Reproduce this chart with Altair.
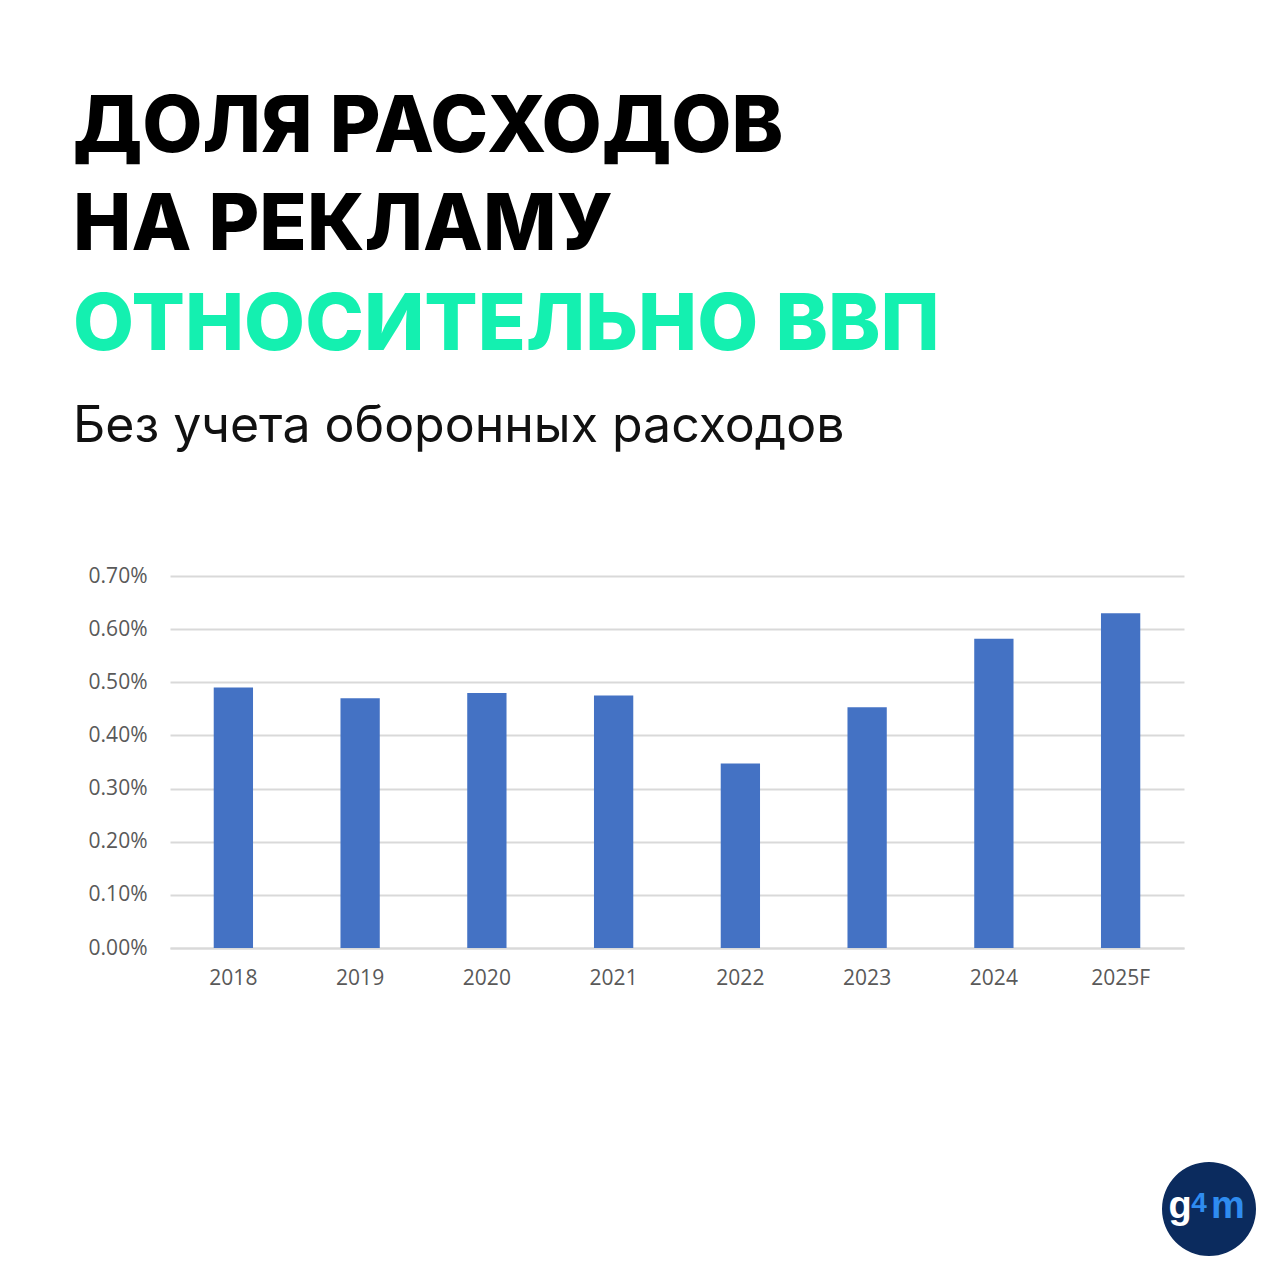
import altair as alt
import pandas as pd

years = ["2018", "2019", "2020", "2021", "2022", "2023", "2024", "2025F"]
shares = [0.0049, 0.0047, 0.0048, 0.00475, 0.00347, 0.00453, 0.00582, 0.0063]
y_ticks = [0.0, 0.001, 0.002, 0.003, 0.004, 0.005, 0.006, 0.007]
title_black = ["ДОЛЯ РАСХОДОВ", "НА РЕКЛАМУ"]
title_green = ["ОТНОСИТЕЛЬНО ВВП"]
subtitle = ["Без учета оборонных расходов"]

df = pd.DataFrame({"year": years, "share": shares})

W, H = 1014, 372

bars = alt.Chart(df).mark_bar(color="#4472C4").encode(
    x=alt.X("year:N", sort=years, title=None,
            scale=alt.Scale(paddingInner=0.69, paddingOuter=0.345),
            axis=alt.Axis(labelAngle=0, labelFont="Open Sans", labelFontSize=21,
                          labelColor="#595959", labelPadding=19, ticks=False,
                          domain=True, domainColor="#D9D9D9", domainWidth=2)),
    y=alt.Y("share:Q", title=None,
            scale=alt.Scale(domain=[0, 0.007], nice=False),
            axis=alt.Axis(values=y_ticks, format=".2%", labelFont="Open Sans",
                          labelFontSize=21, labelColor="#595959", labelPadding=23,
                          ticks=False, domain=False, grid=True, gridColor="#D9D9D9",
                          gridWidth=2)),
)

def text_layer(lines, y0, step, size, weight, color):
    layers = []
    for i, line in enumerate(lines):
        layers.append(
            alt.Chart(pd.DataFrame({"t": [line]})).mark_text(
                align="left", baseline="alphabetic", font="Inter", fontSize=size,
                fontWeight=weight, color=color
            ).encode(x=alt.value(-97), y=alt.value(y0 + i * step), text="t:N")
        )
    return layers

layers = [bars]
layers += text_layer(title_black, -424, 98, 78, 800, "#000000")
layers += text_layer(title_green, -226, 0, 79, 800, "#14F0B0")
layers += text_layer(subtitle, -134, 0, 50, 400, "#111111")

logo_df = pd.DataFrame({"g": ["g"], "n": ["4"], "m": ["m"]})
logo_circle = alt.Chart(logo_df).mark_point(
    shape="circle", filled=True, size=8836, color="#0B2B5E", opacity=1
).encode(x=alt.value(1039), y=alt.value(633))
logo_g = alt.Chart(logo_df).mark_text(
    font="Liberation Sans", fontSize=38, fontWeight="bold", color="#FFFFFF", align="center", baseline="alphabetic"
).encode(x=alt.value(1010), y=alt.value(642), text="g:N")
logo_4 = alt.Chart(logo_df).mark_text(
    font="Liberation Sans", fontSize=28, fontWeight="bold", color="#2F8CF0", align="center", baseline="alphabetic"
).encode(x=alt.value(1029), y=alt.value(636), text="n:N")
logo_m = alt.Chart(logo_df).mark_text(
    font="Liberation Sans", fontSize=38, fontWeight="bold", color="#2F8CF0", align="center", baseline="alphabetic"
).encode(x=alt.value(1058), y=alt.value(642), text="m:N")
layers += [logo_circle, logo_g, logo_4, logo_m]

chart = alt.layer(*layers).properties(
    width=W, height=H,
    autosize=alt.AutoSizeParams(type="none"),
    padding={"left": 162, "top": 568, "right": 88, "bottom": 324},
    background="#FFFFFF",
).configure_view(stroke=None)

chart.save("out.html", embed_options={"renderer": "svg", "actions": False})
